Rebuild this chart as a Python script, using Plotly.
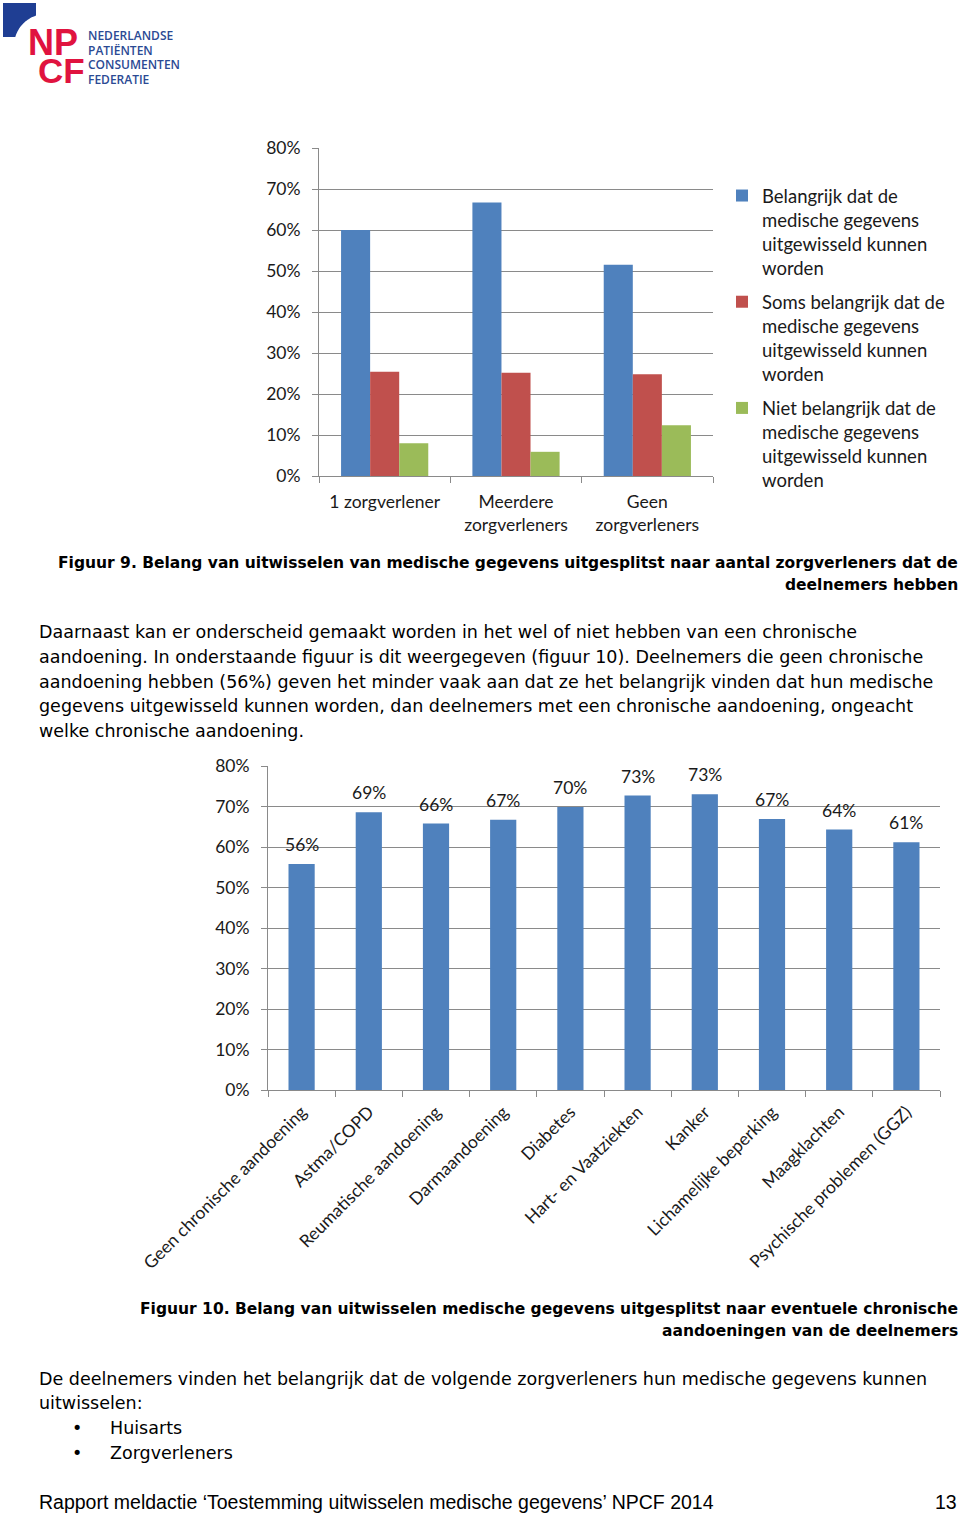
import math
import plotly.graph_objects as go

W, H = 960, 1513

# ---------------- data ----------------
categories1 = ["1 zorgverlener", "Meerdere<br>zorgverleners", "Geen<br>zorgverleners"]
belangrijk = [60.0, 66.7, 51.5]
soms_belangrijk = [25.4, 25.2, 24.8]
niet_belangrijk = [8.0, 5.9, 12.4]
series_names = [
    "Belangrijk dat de<br>medische gegevens<br>uitgewisseld kunnen<br>worden",
    "Soms belangrijk dat de<br>medische gegevens<br>uitgewisseld kunnen<br>worden",
    "Niet belangrijk dat de<br>medische gegevens<br>uitgewisseld kunnen<br>worden",
]
series_colors = ["#4f81bd", "#c0504d", "#9bbb59"]

categories2 = [
    "Geen chronische aandoening", "Astma/COPD", "Reumatische aandoening",
    "Darmaandoening", "Diabetes", "Hart- en Vaatziekten", "Kanker",
    "Lichamelijke beperking", "Maagklachten", "Psychische problemen (GGZ)",
]
values2 = [55.8, 68.6, 65.8, 66.7, 69.9, 72.7, 73.0, 66.9, 64.3, 61.2]

y_ticks = [0, 10, 20, 30, 40, 50, 60, 70, 80]
y_ticklabels = [f"{v}%" for v in y_ticks]


def px(x):
    return x / W


def py(y):
    return 1 - y / H


CHART_FONT = "Lato"
BODY_FONT = "DejaVu Sans"
GRID = "#8a8a8a"
TXT = "#1a1a1a"

fig = go.Figure()

for name, vals, col in zip(series_names, [belangrijk, soms_belangrijk, niet_belangrijk], series_colors):
    fig.add_trace(go.Bar(
        x=categories1, y=vals, name=name, marker=dict(color=col, line=dict(width=0)),
        xaxis="x", yaxis="y", legendgroup=name, hoverinfo="skip",
    ))

fig.add_trace(go.Bar(
    x=categories2, y=values2, marker=dict(color="#4f81bd", line=dict(width=0)),
    width=0.39, xaxis="x2", yaxis="y2", showlegend=False, hoverinfo="skip",
))

annotations = []
# data labels chart 2
for c, v in zip(categories2, values2):
    annotations.append(dict(
        x=c, y=v, xref="x2", yref="y2", text=f"{round(v)}%", showarrow=False,
        yanchor="bottom", yshift=7, font=dict(family=CHART_FONT, size=17.5, color=TXT),
    ))


def txt(x, y, s, size=17.5, family=BODY_FONT, anchor="left", color="#000000", weight="normal"):
    annotations.append(dict(
        x=px(x), y=py(y), xref="paper", yref="paper", text=s, showarrow=False,
        xanchor=anchor, yanchor="middle", align=anchor,
        font=dict(family=family, size=size, color=color, weight=weight),
    ))


# logo texts
txt(26, 43, "NP", size=36, family="Liberation Sans", color="#e0133f", weight="bold")
txt(36, 70, "CF", size=35, family="Liberation Sans", color="#e0133f", weight="bold")
for i, t in enumerate(["NEDERLANDSE", "PATIËNTEN", "CONSUMENTEN", "FEDERATIE"]):
    txt(86, 36 + i * 14.5, t, size=12, family="Open Sans", color="#2b4a94", weight=600)

# captions & body text
txt(960, 563, "Figuur 9. Belang van uitwisselen van medische gegevens uitgesplitst naar aantal zorgverleners dat de",
    size=15.5, anchor="right", weight="bold")
txt(960, 585, "deelnemers hebben", size=15.5, anchor="right", weight="bold")

body = [
    "Daarnaast kan er onderscheid gemaakt worden in het wel of niet hebben van een chronische",
    "aandoening. In onderstaande figuur is dit weergegeven (figuur 10). Deelnemers die geen chronische",
    "aandoening hebben (56%) geven het minder vaak aan dat ze het belangrijk vinden dat hun medische",
    "gegevens uitgewisseld kunnen worden, dan deelnemers met een chronische aandoening, ongeacht",
    "welke chronische aandoening.",
]
for i, line in enumerate(body):
    txt(37, 632 + i * 24.75, line)

txt(960, 1309, "Figuur 10. Belang van uitwisselen medische gegevens uitgesplitst naar eventuele chronische",
    size=15.5, anchor="right", weight="bold")
txt(960, 1331, "aandoeningen van de deelnemers", size=15.5, anchor="right", weight="bold")

txt(37, 1379, "De deelnemers vinden het belangrijk dat de volgende zorgverleners hun medische gegevens kunnen")
txt(37, 1403, "uitwisselen:")
txt(70, 1428, "•")
txt(108, 1428, "Huisarts")
txt(70, 1453, "•")
txt(108, 1453, "Zorgverleners")

txt(37, 1502, "Rapport meldactie ‘Toestemming uitwisselen medische gegevens’ NPCF 2014",
    size=19.5, family="Liberation Sans")
txt(959, 1502, "13", size=19.5, family="Liberation Sans", anchor="right")

# logo blue shape (decoration): square with concave quarter-circle cut
cx, cy, r = 46, 46, 32
pts = [(3, 3), (36, 3), (36, cy - math.sqrt(r * r - (cx - 36) ** 2))]
a0 = math.atan2(pts[-1][1] - cy, pts[-1][0] - cx)
ex, ey = cx - math.sqrt(r * r - (37 - cy) ** 2), 37
a1 = math.atan2(ey - cy, ex - cx)
for k in range(1, 21):
    a = a0 + (a1 - a0) * k / 20
    pts.append((cx + r * math.cos(a), cy + r * math.sin(a)))
pts.append((3, 37))
path = "M " + " L ".join(f"{px(x):.5f},{py(y):.5f}" for x, y in pts) + " Z"
shapes = [dict(type="path", xref="paper", yref="paper", path=path,
               fillcolor="#1f3e93", line=dict(width=0), layer="above")]

axis_common = dict(
    showline=True, linecolor=GRID, linewidth=1,
    ticks="outside", ticklen=6, tickcolor=GRID,
    tickfont=dict(family=CHART_FONT, size=17.5, color=TXT),
    zeroline=False, fixedrange=True, automargin=False,
)
y_common = dict(
    axis_common, range=[0, 80], tickvals=y_ticks, ticktext=y_ticklabels,
    showgrid=True, gridcolor=GRID, gridwidth=1, ticklabelstandoff=8,
)

fig.update_layout(
    width=W, height=H, margin=dict(l=0, r=0, t=0, b=0, autoexpand=False),
    paper_bgcolor="white", plot_bgcolor="white",
    barmode="group", bargap=0.336, bargroupgap=0,
    showlegend=True,
    legend=dict(
        x=px(722), y=py(177), xanchor="left", yanchor="top",
        font=dict(family=CHART_FONT, size=18.5, color=TXT),
        valign="top", tracegroupgap=7, itemclick=False, itemdoubleclick=False,
        bgcolor="rgba(0,0,0,0)",
    ),
    xaxis=dict(axis_common, domain=[px(319), px(713)], anchor="y",
               tickson="boundaries", showgrid=False, tickangle=0, ticklabelstandoff=10),
    yaxis=dict(y_common, domain=[py(476), py(148)], anchor="x"),
    xaxis2=dict(axis_common, domain=[px(268), px(940)], anchor="y2",
                tickson="boundaries", showgrid=False, tickangle=-45, ticklabelstandoff=4),
    yaxis2=dict(y_common, domain=[py(1090), py(766)], anchor="x2"),
    annotations=annotations,
    shapes=shapes,
)

# remove the browser's default 8px body margin so the 960x1513 figure fills the window exactly
fig.write_html(
    "out.html",
    config={"displayModeBar": False},
    post_script="document.body.style.margin='0px';document.documentElement.style.overflow='hidden';",
)
